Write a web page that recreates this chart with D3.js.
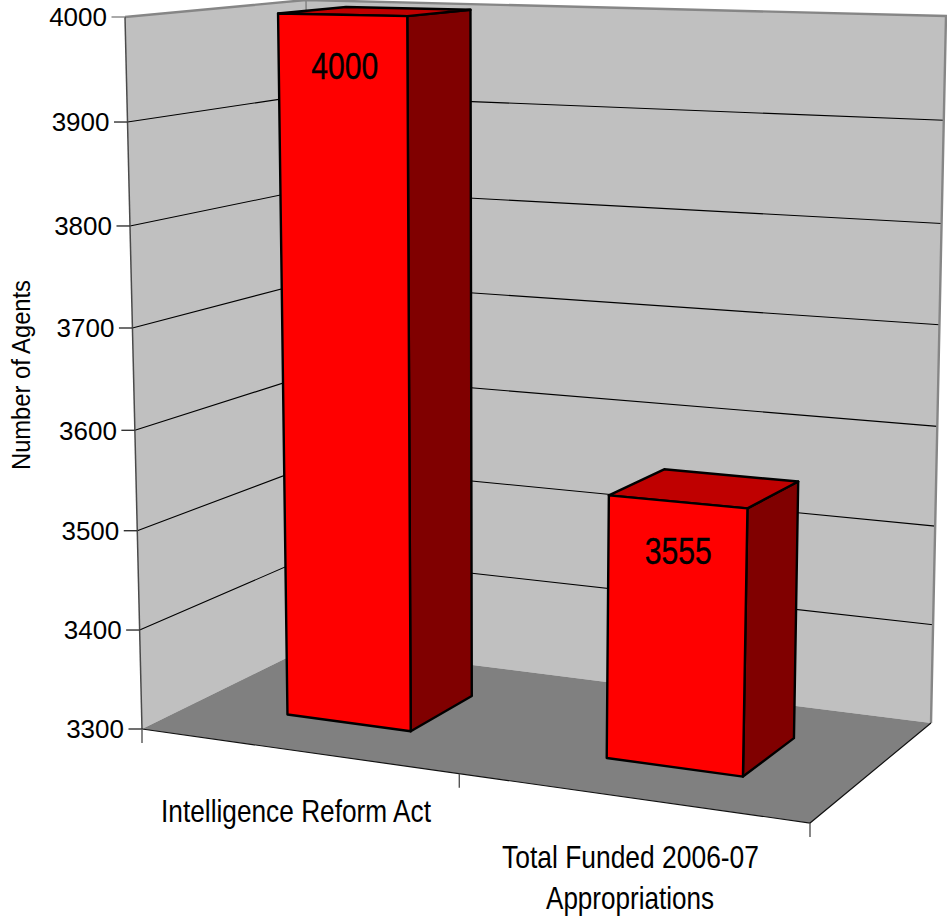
<!DOCTYPE html>
<html><head><meta charset="utf-8">
<script src="https://cdn.jsdelivr.net/npm/d3@7"></script>
<style>html,body{margin:0;padding:0;background:#fff}svg{display:block}text{font-family:"Liberation Sans",Arial,sans-serif;fill:#000}</style>
</head><body><div id="c"></div>
<script>
const categories = ["Intelligence Reform Act", "Total Funded 2006-07\nAppropriations"];
const values = [4000, 3555];
const valueTicks = [3300, 3400, 3500, 3600, 3700, 3800, 3900, 4000];
const axisTitle = "Number of Agents";

const W = 947, H = 919;
// Screen corners of the chart's box: floor then ceiling
const floorC = {fl:[142,729], fr:[810,823], bl:[313,645], br:[931,723]};
const ceilC  = {fl:[125,17],  fr:[829,30],  bl:[306,0],   br:[946,16]};

// Value to height, foreshortened as on the reference axis
const vScale = d3.scaleLinear().domain(valueTicks)
  .range([0, 0.1390, 0.2785, 0.4195, 0.5632, 0.7065, 0.8525, 1]);
// Category bands along the front edge (the far band looks longer in this view)
const uScale = d3.scaleLinear().domain([0, 1, 2]).range([0, 0.475, 1]);
const barSpan = [0.293, 0.691], depthSpan = [0.32, 0.715];

const mix = (a, b, t) => [a[0] + (b[0]-a[0])*t, a[1] + (b[1]-a[1])*t];
const plane = (c, u, w) => mix(mix(c.fl, c.fr, u), mix(c.bl, c.br, u), w);
const project = (u, val, w) => mix(plane(floorC, u, w), plane(ceilC, u, w), vScale(val));
const line = d3.line();
const poly = pts => line(pts) + "Z";
const v0 = valueTicks[0], v1 = valueTicks[valueTicks.length-1];

const svg = d3.select("#c").append("svg").attr("width", W).attr("height", H).attr("viewBox", [0,0,W,H]);

// walls + floor
const planes = [
  {pts:[[0,v0,0],[0,v1,0],[0,v1,1],[0,v0,1]], fill:"#c0c0c0"},
  {pts:[[0,v0,1],[0,v1,1],[1,v1,1],[1,v0,1]], fill:"#c0c0c0"},
  {pts:[[0,v0,0],[1,v0,0],[1,v0,1],[0,v0,1]], fill:"#808080"}
];
svg.append("g").selectAll("path").data(planes).join("path")
  .attr("d", d => poly(d.pts.map(p => project(...p)))).attr("fill", d => d.fill);

// gridlines on both walls
const grid = valueTicks.slice(1, -1);
svg.append("g").attr("fill","none").attr("stroke","#000").attr("stroke-width",1.1)
  .selectAll("path").data(grid).join("path")
  .attr("d", v => line([project(0,v,0), project(0,v,1), project(1,v,1)]));

// frame
const frame = [
  {pts:[[0,v1,0],[0,v1,1],[1,v1,1],[1,v0,1]], c:"#868686", w:2.4},
  {pts:[[0,v1,1],[0,v0,1]], c:"#868686", w:1.6},
  {pts:[[0,v1,0],[0,v0,0]], c:"#4a4a4a", w:1.5},
  {pts:[[0,v0,0],[1,v0,0],[1,v0,1]], c:"#111", w:1.2}
];
svg.append("g").attr("fill","none").selectAll("path").data(frame).join("path")
  .attr("d", d => line(d.pts.map(p => project(...p))))
  .attr("stroke", d => d.c).attr("stroke-width", d => d.w);

// value axis
const yAxis = svg.append("g").selectAll("g").data(valueTicks).join("g")
  .attr("transform", v => { const p = project(0,v,0); return `translate(${p[0]},${p[1]})`; });
yAxis.append("line").attr("x1",-13.5).attr("x2",0)
  .attr("stroke", v => v === v1 ? "#868686" : "#333").attr("stroke-width",1.4);
yAxis.append("text").attr("x",-18).attr("y",0).attr("dy","0.36em").attr("text-anchor","end")
  .attr("font-size",26).text(d => d);

// category ticks
svg.append("g").attr("stroke","#555").attr("stroke-width",1.4).selectAll("line")
  .data(d3.range(categories.length + 1)).join("line")
  .attr("x1", i => project(uScale(i),v0,0)[0]).attr("x2", i => project(uScale(i),v0,0)[0])
  .attr("y1", i => project(uScale(i),v0,0)[1]).attr("y2", i => project(uScale(i),v0,0)[1] + 14);

// bars
const bars = values.map((v,i) => {
  const b = d3.scaleLinear().domain([0,1]).range([uScale(i), uScale(i+1)]);
  const [a, c] = [b(barSpan[0]), b(barSpan[1])], [n, f] = depthSpan;
  return {v, faces:[
    {fill:"#800000", pts:[[c,v0,n],[c,v,n],[c,v,f],[c,v0,f]]},
    {fill:"#bf0000", pts:[[a,v,n],[c,v,n],[c,v,f],[a,v,f]]},
    {fill:"#ff0000", pts:[[a,v0,n],[a,v,n],[c,v,n],[c,v0,n]]}
  ], top:project((a+c)/2, v, n)};
});
const barG = svg.append("g").selectAll("g").data(bars).join("g");
barG.selectAll("path").data(d => d.faces).join("path")
  .attr("d", d => poly(d.pts.map(p => project(...p))))
  .attr("fill", d => d.fill).attr("stroke","#000").attr("stroke-width",2.4).attr("stroke-linejoin","round");

// narrow text helper: real text squeezed to the measured width
function narrow(sel, x, y, size, len, str, rot) {
  return sel.append("text").attr("transform", `translate(${x},${y})` + (rot ? ` rotate(${rot})` : ""))
    .attr("text-anchor","middle").attr("font-size",size)
    .attr("textLength",len).attr("lengthAdjust","spacingAndGlyphs").text(str);
}
// data labels
const labelDrop = [64, 62], labelDx = [2, 0];
bars.forEach((b,i) => narrow(svg, b.top[0]+labelDx[i], b.top[1]+labelDrop[i], 37, 67, b.v)
  .style("stroke","#000").style("stroke-width",0.35));

// category labels
const lines = categories.map(c => c.split("\n"));
narrow(svg, 296, 822, 32, 270, lines[0][0]);
narrow(svg, 630.5, 868, 32, 257, lines[1][0]);
narrow(svg, 630, 909, 32, 168, lines[1][1]);

// axis title
narrow(svg, 29.5, 375, 26.5, 190, axisTitle, -90);
</script></body></html>
